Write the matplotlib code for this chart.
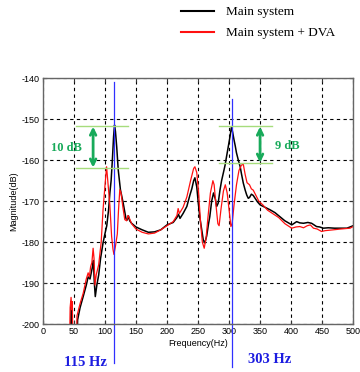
import matplotlib
matplotlib.use("Agg")
import matplotlib.pyplot as plt

plt.rcParams['axes.unicode_minus'] = False
plt.rcParams['font.family'] = ['Liberation Sans', 'DejaVu Sans']

# Main system (black)
main_f = [0, 1, 44, 45.5, 47, 48.5, 54, 56, 60, 65, 70, 73, 76, 78, 80, 81.5, 83, 84.5, 87, 90,
          93, 97, 100, 103, 106, 108, 110, 112, 114, 115.5, 117, 119, 121.5, 125, 129.5, 134, 136,
          138, 140, 143, 150, 160, 170, 180, 190, 200, 210, 216, 218.5, 221, 226, 232, 237, 240,
          243, 245, 248, 250.5, 253, 256, 258.5, 261, 264, 267, 269, 272, 275, 278, 280, 282.5,
          285.5, 288, 291, 293.5, 296, 299, 301.6, 304, 306, 308, 310, 312, 315, 318, 320, 323,
          326, 328.5, 331, 333, 336, 339, 342, 346, 350, 358, 366, 374, 382, 390, 398, 401, 405,
          409, 414, 420, 427, 433, 437, 441, 446, 452, 460, 470, 480, 490, 495, 500]
main_db = [-177, -215, -215, -194.5, -197, -215, -215, -199, -196, -193.3, -190.5, -188.5, -189,
           -187.5, -186, -184.5, -190, -193.3, -190.5, -188, -184, -180.2, -178, -176, -172, -168,
           -165, -160, -154.2, -151.4, -153, -156.7, -162.4, -167.2, -170.5, -174.3, -174.6,
           -173.6, -174.8, -175.4, -176.3, -177, -177.6, -177.5, -177, -175.8, -175.2, -174,
           -173.2, -174.2, -173, -171.3, -168.5, -167, -165, -164.3, -166.5, -170.5, -174, -177,
           -179.5, -180.2, -178.5, -175.5, -173.8, -170, -168, -169.5, -171.3, -170.5, -167.2,
           -165, -163, -161.3, -159.1, -156.5, -154.2, -151.8, -153.3, -155, -156.5, -158.2, -160,
           -161.6, -163.3, -165.6, -167.3, -168.5, -169.3, -169.1, -168.3, -168.6, -169.3, -170.2,
           -170.9, -171.5, -172.1, -172.8, -173.8, -174.8, -175.5, -175.8, -175.4, -175, -175.3,
           -175.4, -175.2, -175.4, -175.8, -176.2, -176.3, -176.6, -176.5, -176.6, -176.6, -176.6,
           -176.3, -176]

# Main system + DVA (red)
dva_f = [0, 1, 42, 44, 45.5, 46.5, 47.5, 49, 53, 55, 60, 65, 70, 73, 75, 77, 79, 81, 82.5, 84,
         86, 90, 94, 97, 100, 102.7, 105.4, 108, 110.8, 113, 114.5, 117, 120, 122, 124, 126, 129,
         132, 135, 137, 139, 143, 150, 160, 170, 180, 190, 200, 210, 216, 218, 220, 226, 232, 238,
         243, 245, 248, 251, 254, 257, 260, 263, 266, 270, 274, 276, 279, 282, 284, 287, 291, 294,
         297, 300, 303, 305, 308, 312, 316, 320, 323, 326, 329, 333, 336, 339, 343, 348, 355, 362,
         370, 380, 390, 401, 408, 414, 420, 426, 431, 436, 442, 449, 455, 468, 480, 495, 500]
dva_db = [-177, -215, -215, -196, -193.5, -196.5, -194.5, -215, -215, -198, -195, -192.5, -189,
          -187.5, -188.5, -186, -185, -181.5, -184, -190.5, -188, -185.5, -180, -172.1, -166.4,
          -161.6, -166.4, -171, -178.6, -181.7, -183, -181, -178, -172, -167.2, -168, -171.5,
          -174.5, -174.8, -173.5, -174, -175.5, -176.8, -177.6, -178, -177.8, -177, -176, -175,
          -173.5, -171.8, -173, -171.5, -169, -165, -162, -161.6, -163, -168, -175, -180, -181.5,
          -179, -174, -168, -165, -166, -171, -175.5, -176, -172, -167.5, -166, -168, -172,
          -176.2, -175.5, -171, -166, -162.5, -161.2, -161, -163.5, -165.5, -166, -167, -167.3,
          -168.5, -170, -171, -172.2, -173, -174, -175.5, -176.6, -176.3, -176.2, -176.5, -176,
          -175.8, -176.6, -176.8, -177.4, -177.2, -177, -176.8, -176.6, -176.2]

x_ticks = [0, 50, 100, 150, 200, 250, 300, 350, 400, 450, 500]
y_ticks = [-200, -190, -180, -170, -160, -150, -140]
peak_freqs = [115, 305]
peak_labels = ['115 Hz', '303 Hz']
series_labels = ['Main system', 'Main system + DVA']

fig = plt.figure(figsize=(3.6, 3.72), dpi=100)
ax = fig.add_axes([0.119, 0.129, 0.862, 0.6605])

ax.plot(main_f, main_db, color='black', lw=1.1, label=series_labels[0])
ax.plot(dva_f, dva_db, color='#ff1010', lw=0.9, label=series_labels[1])

ax.set_xlim(0, 500)
ax.set_ylim(-200, -140)
ax.set_xticks(x_ticks)
ax.set_yticks(y_ticks)
ax.grid(True, color='black', linestyle=(0, (3, 3)), linewidth=0.8)
ax.tick_params(direction='in', length=3, top=True, right=True, labelsize=6.5,
               pad=2, color='#333333')
for s in ax.spines.values():
    s.set_color('#666666')
    s.set_linewidth(1.0)
ax.set_xlabel('Frequency(Hz)', fontsize=6.5, labelpad=2)
ax.set_ylabel('Magnitude(dB)', fontsize=6.5, labelpad=3)

# blue marker lines
ax.plot([peak_freqs[0]] * 2, [-140.8, -209.5], color='#3030ff', lw=0.9, clip_on=False)
ax.plot([peak_freqs[1]] * 2, [-145.1, -210.5], color='#3030ff', lw=0.9, clip_on=False)
ax.text(68, -209.4, peak_labels[0], color='#1c1ce0', fontsize=10.5, fontweight='bold',
        family='Liberation Serif', ha='center', va='center', clip_on=False)
ax.text(366, -208.7, peak_labels[1], color='#1c1ce0', fontsize=10.5, fontweight='bold',
        family='Liberation Serif', ha='center', va='center', clip_on=False)

# green reference lines and arrows
lg = '#a6dc7c'
ag = '#18aa5a'
ax.plot([53.5, 138], [-151.6, -151.6], color=lg, lw=1.0)
ax.plot([53.5, 138], [-162.0, -162.0], color=lg, lw=1.0)
ax.plot([284, 369], [-151.6, -151.6], color=lg, lw=1.0)
ax.plot([284, 369], [-160.8, -160.8], color=lg, lw=1.0)
ax.annotate('', xy=(81, -151.8), xytext=(81, -161.8),
            arrowprops=dict(arrowstyle='<->', color=ag, lw=2, mutation_scale=10,
                            shrinkA=0, shrinkB=0))
ax.annotate('', xy=(350, -151.8), xytext=(350, -160.6),
            arrowprops=dict(arrowstyle='<->', color=ag, lw=2, mutation_scale=10,
                            shrinkA=0, shrinkB=0))
ax.text(38, -157, '10 dB', color=ag, fontsize=9, fontweight='bold',
        family='Liberation Serif', ha='center', va='center')
ax.text(394, -156.5, '9 dB', color=ag, fontsize=9, fontweight='bold',
        family='Liberation Serif', ha='center', va='center')

leg = ax.legend(loc='upper left', bbox_to_anchor=(0.482, 1.003), bbox_transform=fig.transFigure,
                frameon=False, handlelength=2.5, handletextpad=0.9, labelspacing=0.65,
                borderpad=0.05, prop={'family': 'Liberation Serif', 'size': 9.5})
for h in leg.get_lines():
    h.set_linewidth(1.5)

fig.savefig('out.png', dpi=100)
